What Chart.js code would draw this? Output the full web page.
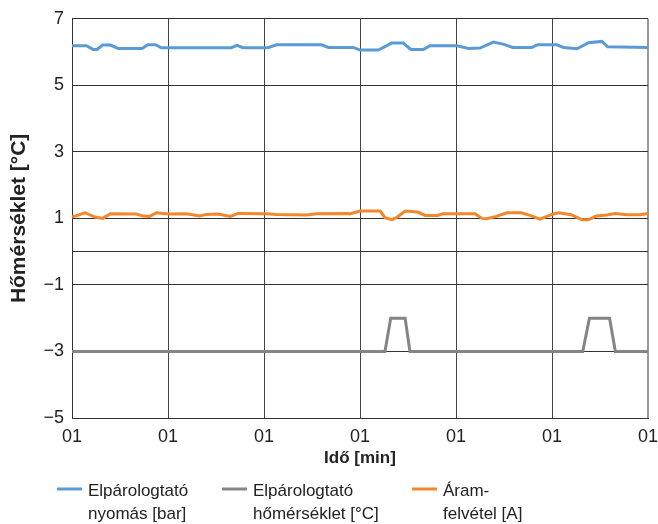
<!DOCTYPE html>
<html>
<head>
<meta charset="utf-8">
<script src="https://cdn.jsdelivr.net/npm/chart.js@4.4.1/dist/chart.umd.min.js"></script>
<style>
  body { margin: 0; background: #fff; }
  #wrap { width: 658px; height: 524px; }
</style>
</head>
<body>
<div id="wrap"><canvas id="chart"></canvas></div>
<script>
// x axis: time, tick labels all "01"
const xTicks = [0, 10, 20, 30, 40, 50, 60];
const xTickLabel = "01";
const yTicks = [-5, -3, -1, 0, 1, 3, 5, 7];

// Elpárologtató nyomás [bar]
const pressureTime = [0, 1.5, 2.2, 2.6, 3.2, 4.0, 4.8, 7.3, 7.9, 8.7, 9.3, 16.6, 17.2, 17.8, 20.4, 21.3, 26.0, 26.7, 29.3, 30.0, 31.9, 33.3, 34.5, 35.3, 36.6, 37.3, 40.1, 41.3, 42.5, 43.9, 44.9, 45.9, 47.9, 48.5, 50.5, 51.2, 52.6, 53.8, 55.2, 55.8, 60];
const pressure = [6.19, 6.19, 6.08, 6.08, 6.21, 6.21, 6.11, 6.11, 6.22, 6.22, 6.13, 6.13, 6.20, 6.13, 6.13, 6.22, 6.22, 6.14, 6.14, 6.06, 6.06, 6.27, 6.27, 6.08, 6.08, 6.19, 6.19, 6.11, 6.12, 6.30, 6.24, 6.14, 6.14, 6.22, 6.22, 6.14, 6.10, 6.28, 6.32, 6.16, 6.14];

// Elpárologtató hőmérséklet [°C]
const tempTime = [0, 32.6, 33.2, 34.7, 35.2, 53.2, 53.9, 56.0, 56.6, 60];
const temperature = [-3, -3, -2, -2, -3, -3, -2, -2, -3, -3];

// Áramfelvétel [A]
const currentTime = [0, 1.35, 2.4, 3.2, 4.0, 6.7, 7.4, 8.1, 8.8, 9.5, 10.2, 11.9, 13.3, 14.0, 15.2, 16.5, 17.3, 20.3, 21.3, 24.4, 25.5, 28.6, 29.0, 30.0, 31.6, 32.1, 32.6, 33.3, 33.8, 34.7, 36.0, 36.8, 38.1, 38.6, 42.0, 42.7, 43.2, 44.2, 45.3, 46.8, 47.7, 48.75, 50.0, 50.7, 52.0, 53.1, 53.8, 54.6, 55.7, 56.6, 57.8, 59.2, 60];
const current = [1.04, 1.17, 1.04, 1.00, 1.14, 1.13, 1.07, 1.06, 1.17, 1.15, 1.13, 1.14, 1.07, 1.12, 1.13, 1.06, 1.15, 1.14, 1.12, 1.10, 1.14, 1.15, 1.14, 1.22, 1.22, 1.22, 1.02, 0.96, 1.02, 1.22, 1.19, 1.09, 1.09, 1.14, 1.14, 1.00, 0.99, 1.06, 1.17, 1.17, 1.09, 0.98, 1.12, 1.17, 1.11, 0.96, 0.96, 1.07, 1.10, 1.15, 1.11, 1.11, 1.15];

const seriesLabels = [
    ["Elpárologtató", "nyomás [bar]"],
    ["Elpárologtató", "hőmérséklet [°C]"],
    ["Áram-", "felvétel [A]"]
];

const FONT = "'Liberation Sans', Arial, sans-serif";

function points(times, values) {
    return times.map((t, i) => ({ x: t, y: values[i] }));
}

// legend drawn by hand so the labels can wrap on two lines
const legendPlugin = {
    id: "twoLineLegend",
    afterDraw(chart) {
        const ctx = chart.ctx;
        const xs = [57, 222, 412];
        ctx.save();
        ctx.font = "17px " + FONT;
        ctx.textBaseline = "middle";
        ctx.textAlign = "left";
        chart.data.datasets.forEach((ds, i) => {
            ctx.strokeStyle = ds.borderColor;
            ctx.lineWidth = 3;
            ctx.beginPath();
            ctx.moveTo(xs[i], 489);
            ctx.lineTo(xs[i] + 25, 489);
            ctx.stroke();
            ctx.fillStyle = "#222";
            ds.legendLines.forEach((line, j) => {
                ctx.fillText(line, xs[i] + 31, 491 + j * 23);
            });
        });
        ctx.restore();
    }
};

const ctx = document.getElementById("chart").getContext("2d");
new Chart(ctx, {
    type: "line",
    data: {
        datasets: [
            {
                data: points(pressureTime, pressure),
                legendLines: seriesLabels[0],
                borderColor: "#5B9BD5",
                borderWidth: 3,
                pointRadius: 0,
                tension: 0
            },
            {
                data: points(tempTime, temperature),
                legendLines: seriesLabels[1],
                borderColor: "#858585",
                borderWidth: 3,
                pointRadius: 0,
                tension: 0
            },
            {
                data: points(currentTime, current),
                legendLines: seriesLabels[2],
                borderColor: "#F5862A",
                borderWidth: 3,
                pointRadius: 0,
                tension: 0
            }
        ]
    },
    options: {
        responsive: true,
        maintainAspectRatio: false,
        animation: false,
        layout: { padding: { top: 18, right: 10, bottom: 54, left: 0 } },
        plugins: {
            legend: { display: false },
            tooltip: { enabled: false }
        },
        scales: {
            x: {
                type: "linear",
                min: 0,
                max: 60,
                afterBuildTicks: scale => { scale.ticks = xTicks.map(v => ({ value: v })); },
                afterFit: scale => {
                    scale.height = 52;
                    scale.paddingLeft = 0;
                    scale.paddingRight = 0;
                },
                ticks: {
                    callback: () => xTickLabel,
                    color: "#222",
                    font: { family: FONT, size: 18 },
                    padding: 8,
                    maxRotation: 0
                },
                grid: {
                    drawTicks: false,
                    color: ctx => ctx.index === xTicks.length - 1 ? "#999" : "#444",
                    lineWidth: ctx => ctx.index === xTicks.length - 1 ? 2 : 1
                },
                border: { color: "#333", width: 1 },
                title: {
                    display: true,
                    text: "Idő [min]",
                    color: "#222",
                    font: { family: FONT, size: 17, weight: "bold" },
                    padding: { top: 0, bottom: 1 }
                }
            },
            y: {
                min: -5,
                max: 7,
                afterBuildTicks: scale => { scale.ticks = yTicks.map(v => ({ value: v })); },
                afterFit: scale => { scale.width = 72; },
                ticks: {
                    callback: v => v === 0 ? "" : (v < 0 ? "\u2212" + Math.abs(v) : String(v)),
                    color: "#222",
                    font: { family: FONT, size: 18 },
                    padding: 8
                },
                grid: { drawTicks: false, color: "#333", lineWidth: 1 },
                border: { color: "#333", width: 1 },
                title: {
                    display: true,
                    text: "Hőmérséklet [°C]",
                    color: "#222",
                    font: { family: FONT, size: 21, weight: "bold" },
                    padding: { top: 7, bottom: 0 }
                }
            }
        }
    },
    plugins: [legendPlugin]
});
</script>
</body>
</html>
